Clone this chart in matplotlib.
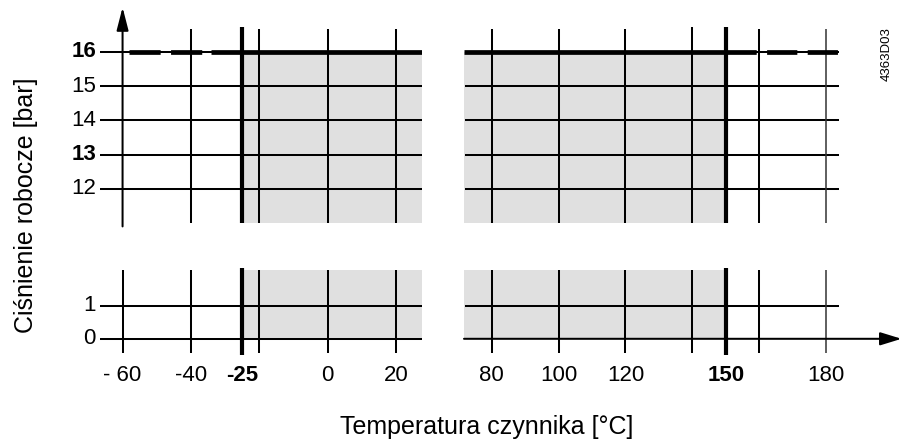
import matplotlib.pyplot as plt

plt.rcParams['font.family'] = ['Liberation Sans', 'DejaVu Sans']

# data
temps_left = [-60, -40, -25, -20, 0, 20]
temps_right = [80, 100, 120, 140, 150, 160, 180]
xlabels_left = ['- 60', '-40', '-25', '', '0', '20']
xlabels_right = ['80', '100', '120', '', '150', '', '180']
limit_temps = [-25, 150]          # thick boundary lines
pressures_top = [12, 13, 14, 15, 16]
pressures_bottom = [0, 1]
bold_values = [-25, 150, 16, 13]
max_pressure = 16
solid_span = (-34, 150)           # solid max-pressure line
dashed_left = (-58, -36.5)
dashed_right = (150, 184)

# axes ranges (broken axes)
xlim_left = (-66.6, 27.5)
xlim_right = (71.7, 184.2)
ylim_top = (11, 16.93)
ylim_bottom = (-0.52, 2.08)

W, H = 901, 444
fig = plt.figure(figsize=(W / 100, H / 100), dpi=100)


def px_axes(x0, x1, ytop, ybot):
    return fig.add_axes([x0 / W, 1 - ybot / H, (x1 - x0) / W, (ybot - ytop) / H])


ax_tl = px_axes(100, 421.7, 20, 223)
ax_tr = px_axes(464, 840, 20, 223)
ax_bl = px_axes(100, 421.7, 270, 356)
ax_br = px_axes(464, 840, 270, 356)

ax_tl.set_xlim(*xlim_left); ax_bl.set_xlim(*xlim_left)
ax_tr.set_xlim(*xlim_right); ax_br.set_xlim(*xlim_right)
ax_tl.set_ylim(*ylim_top); ax_tr.set_ylim(*ylim_top)
ax_bl.set_ylim(*ylim_bottom); ax_br.set_ylim(*ylim_bottom)

shade = '#e0e0e0'
lw = 1.45
thick = 3.0

for ax in (ax_tl, ax_tr, ax_bl, ax_br):
    ax.axis('off')

# shading
ax_tl.fill_between([limit_temps[0], xlim_left[1]], ylim_top[0], max_pressure, color=shade, lw=0, zorder=0)
ax_tr.fill_between([xlim_right[0], limit_temps[1]], ylim_top[0], max_pressure, color=shade, lw=0, zorder=0)
ax_bl.fill_between([limit_temps[0], xlim_left[1]], 0, ylim_bottom[1], color=shade, lw=0, zorder=0)
ax_br.fill_between([xlim_right[0], limit_temps[1]], 0, ylim_bottom[1], color=shade, lw=0, zorder=0)

# horizontal grid lines
for p in pressures_top:
    ax_tl.plot(xlim_left, [p, p], color='k', lw=lw, solid_capstyle='butt')
    ax_tr.plot([xlim_right[0] + 0.3, 184], [p, p], color='k', lw=lw, solid_capstyle='butt')
ax_bl.plot(xlim_left, [1, 1], color='k', lw=lw, solid_capstyle='butt')
ax_br.plot([xlim_right[0] + 0.3, 184], [1, 1], color='k', lw=lw, solid_capstyle='butt')
ax_bl.plot(xlim_left, [0, 0], color='k', lw=lw, solid_capstyle='butt')

# x axis with arrow
ax_br.annotate('', xy=(202.6, 0), xytext=(xlim_right[0], 0), annotation_clip=False,
               arrowprops=dict(arrowstyle='-|>,head_length=0.65,head_width=0.2',
                               mutation_scale=20, lw=lw, color='k',
                               shrinkA=0, shrinkB=0))

# vertical grid lines
for ax_t, ax_b, temps in ((ax_tl, ax_bl, temps_left), (ax_tr, ax_br, temps_right)):
    for t in temps:
        if t in limit_temps:
            ax_t.plot([t, t], [ylim_top[0], 16.74], color='k', lw=thick, solid_capstyle='butt', clip_on=False)
            ax_b.plot([t, t], [-0.5, 2.14], color='k', lw=thick, solid_capstyle='butt', clip_on=False)
        elif t == -60:
            ax_t.annotate('', xy=(t, 17.3), xytext=(t, 10.9), annotation_clip=False,
                          arrowprops=dict(arrowstyle='-|>,head_length=0.7,head_width=0.18',
                                          mutation_scale=20, lw=lw, color='k',
                                          shrinkA=0, shrinkB=0))
            ax_b.plot([t, t], [-0.44, 2.08], color='k', lw=lw, solid_capstyle='butt', clip_on=False)
        else:
            col = '#333333' if t == 180 else 'k'
            w = 1.1 if t == 180 else lw
            top = 16.74 if t == 140 else 16.66
            ax_t.plot([t, t], [ylim_top[0], top], color=col, lw=w, solid_capstyle='butt', clip_on=False)
            ax_b.plot([t, t], [-0.44, 2.08], color=col, lw=w, solid_capstyle='butt', clip_on=False)

# maximum pressure line
mp_lw = 3.4
ax_tl.plot([solid_span[0], xlim_left[1]], [max_pressure] * 2, color='k', lw=mp_lw, solid_capstyle='butt')
ax_tr.plot([xlim_right[0], solid_span[1]], [max_pressure] * 2, color='k', lw=mp_lw, solid_capstyle='butt')
ax_tl.plot(dashed_left, [max_pressure] * 2, color='k', lw=mp_lw, dashes=(6.6, 2.2), dash_capstyle='butt')
ax_tr.plot(dashed_right, [max_pressure] * 2, color='k', lw=mp_lw, dashes=(6.4, 2.2), dash_capstyle='butt')

fs = 16
# x tick labels
for ax, temps, labels in ((ax_bl, temps_left, xlabels_left), (ax_br, temps_right, xlabels_right)):
    for t, lab in zip(temps, labels):
        if lab:
            ax.text(t, -1.1, lab, ha='center', va='center', fontsize=fs,
                    fontweight='bold' if t in bold_values else 'normal', clip_on=False)

# y tick labels
for p in pressures_top:
    ax_tl.text(-67.8, p, str(p), ha='right', va='center', fontsize=fs,
               fontweight='bold' if p in bold_values else 'normal', clip_on=False)
for p in pressures_bottom:
    ax_bl.text(-67.8, p, str(p), ha='right', va='center', fontsize=fs, clip_on=False)

fig.text(26 / W, 1 - 205 / H, 'Ciśnienie robocze [bar]', rotation=90, ha='center', va='center', fontsize=18)
fig.text(487 / W, 1 - 427 / H, 'Temperatura czynnika [°C]', ha='center', va='center', fontsize=18)
fig.text(887 / W, 1 - 54 / H, '4363D03', rotation=90, ha='center', va='center', fontsize=9.5)

fig.savefig('out.png', dpi=100)
